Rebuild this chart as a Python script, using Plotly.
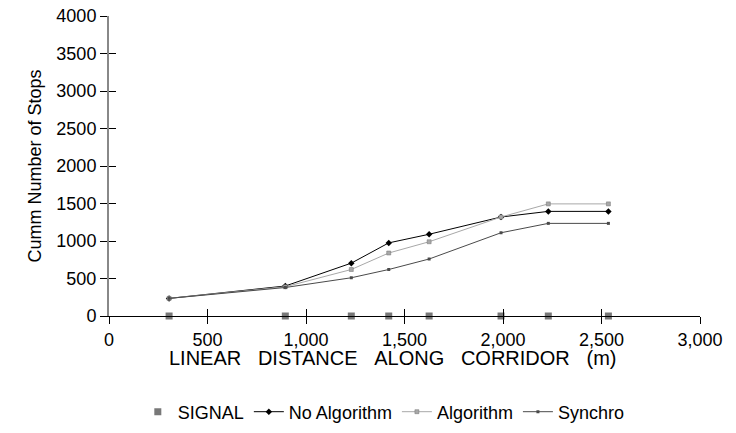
import plotly.graph_objects as go

distance = [305, 895, 1230, 1420, 1625, 1990, 2230, 2535]
signal = [0, 0, 0, 0, 0, 0, 0, 0]
no_algorithm = [235, 400, 705, 975, 1090, 1320, 1395, 1395]
algorithm = [235, 390, 620, 840, 990, 1320, 1495, 1495]
synchro = [235, 380, 510, 620, 760, 1110, 1235, 1235]

x_ticks = [0, 500, 1000, 1500, 2000, 2500, 3000]
y_ticks = [0, 500, 1000, 1500, 2000, 2500, 3000, 3500, 4000]

x_title = "\u00a0\u00a0\u00a0".join(["LINEAR", "DISTANCE", "ALONG", "CORRIDOR", "(m)"])
y_title = "Cumm Number of Stops"

FONT = "Liberation Sans, Arial, sans-serif"
FS = 18

fig = go.Figure()
fig.add_trace(go.Scatter(x=distance, y=signal, name="SIGNAL", mode="markers",
                         marker=dict(symbol="square", size=7, color="#787878"),
                         cliponaxis=False))
fig.add_trace(go.Scatter(x=distance, y=no_algorithm, name="No Algorithm", mode="lines+markers",
                         line=dict(color="#000000", width=1),
                         marker=dict(symbol="diamond", size=5, color="#000000")))
fig.add_trace(go.Scatter(x=distance, y=algorithm, name="Algorithm", mode="lines+markers",
                         line=dict(color="#a8a8a8", width=1),
                         marker=dict(symbol="square", size=4, color="#a8a8a8",
                                     line=dict(color="#707070", width=0.5))))
fig.add_trace(go.Scatter(x=distance, y=synchro, name="Synchro", mode="lines+markers",
                         line=dict(color="#4a4a4a", width=1),
                         marker=dict(symbol="square", size=3, color="#4a4a4a")))

fig.update_layout(
    width=736, height=433,
    margin=dict(l=101, r=44, t=8, b=125, autoexpand=False),
    paper_bgcolor="white", plot_bgcolor="white",
    font=dict(family=FONT, size=FS, color="#000000"),
    showlegend=True,
    legend=dict(orientation="h", x=0.465, xanchor="center", y=-0.32, yanchor="middle",
                font=dict(size=FS), itemwidth=30, tracegroupgap=0),
    xaxis=dict(range=[0, 3000], tickvals=x_ticks, tickformat=",", showgrid=False,
               zeroline=False, showline=True, linecolor="#000000", linewidth=1,
               ticks="outside", ticklen=7, tickcolor="#000000", tickwidth=1,
               automargin=False, ticklabeloverflow="allow"),
    yaxis=dict(range=[0, 4000], tickvals=y_ticks, tickformat="d", showgrid=False,
               zeroline=False, showline=True, linecolor="#888888", linewidth=2,
               ticks="outside", ticklen=7, tickcolor="#000000", tickwidth=1,
               automargin=False, ticklabeloverflow="allow",
               title=dict(text=y_title, standoff=10, font=dict(size=FS))),
    xaxis2=dict(range=[0, 3000], tickvals=x_ticks, overlaying="x", anchor="y",
                side="bottom", showticklabels=False, showgrid=False, zeroline=False,
                ticks="inside", ticklen=7, tickcolor="#000000", tickwidth=1,
                automargin=False),
    yaxis2=dict(range=[0, 4000], tickvals=y_ticks, overlaying="y", anchor="x",
                side="left", showticklabels=False, showgrid=False, zeroline=False,
                ticks="inside", ticklen=7, tickcolor="#000000", tickwidth=1,
                automargin=False),
    annotations=[dict(text=x_title, xref="paper", yref="paper", x=0.48, y=-0.14,
                      xanchor="center", yanchor="middle", showarrow=False,
                      font=dict(size=20))],
)
fig.add_trace(go.Scatter(x=[None], y=[None], xaxis="x2", yaxis="y2", showlegend=False,
                         hoverinfo="skip"))

fig.write_html("out.html")
